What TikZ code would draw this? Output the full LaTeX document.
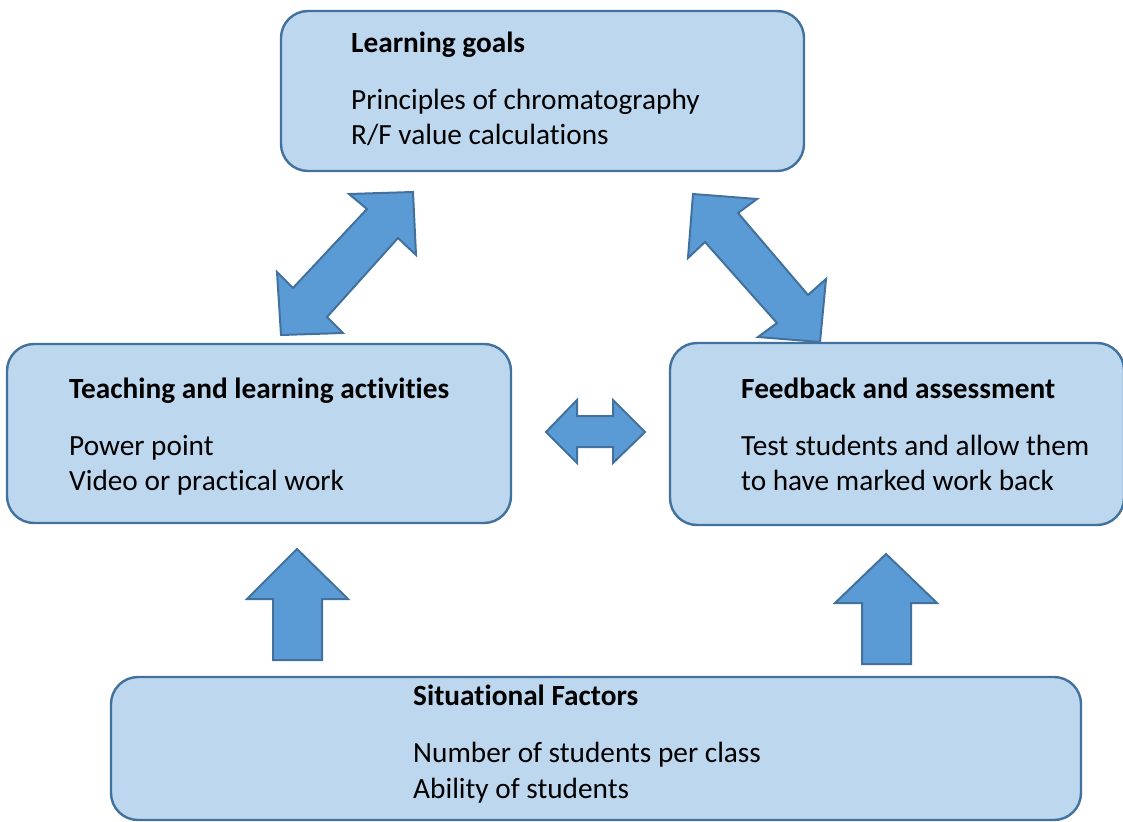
\documentclass[tikz,border=0pt]{standalone}
\usepackage{fontspec}
\setmainfont[Ligatures=NoCommon]{Carlito}
\definecolor{boxfill}{HTML}{BDD7EE}
\definecolor{boxline}{HTML}{41719C}
\definecolor{arrfill}{HTML}{5B9BD5}
\begin{document}
\begin{tikzpicture}[x=1pt,y=-1pt,
  box/.style={draw=boxline, fill=boxfill, line width=2.4pt, rounded corners=27pt},
  blockarrow/.style={draw=boxline, fill=arrfill, line width=2pt, line join=miter},
  txt/.style={anchor=base west, inner sep=0pt, font=\fontsize{29.3}{35}\selectfont},
  head/.style={txt, font=\fontsize{29.3}{35}\selectfont\bfseries}]
\useasboundingbox (0,0) rectangle (1123,821);
% boxes
\draw[box] (281,11) rectangle (804,171);
\node[inner sep=0pt] (goals) at (542.5,91) {};
\draw[box] (7,344) rectangle (511,523);
\node[inner sep=0pt] (teach) at (259,433.5) {};
\draw[box] (670,343) rectangle (1124,525);
\node[inner sep=0pt] (feed) at (897,434) {};
\draw[box] (111,677) rectangle (1081,820);
\node[inner sep=0pt] (situ) at (596,748.5) {};
% texts
\node[head] (t1) at (351,53) {Learning goals};
\node[txt] (t2) at (351,110) {Principles of chromatography};
\node[txt] (t3) at (351,145) {R/F value calculations};
\node[head] (t4) at (69,398) {Teaching and learning activities};
\node[txt] (t5) at (69,455) {Power point};
\node[txt] (t6) at (69,490) {Video or practical work};
\node[head] (t7) at (741,398) {Feedback and assessment};
\node[txt] (t8) at (741,455) {Test students and allow them};
\node[txt] (t9) at (741,490) {to have marked work back};
\node[head] (t10) at (413,705) {Situational Factors};
\node[txt] (t11) at (413,762) {Number of students per class};
\node[txt] (t12) at (413,798) {Ability of students};
% left diagonal double arrow
\draw[blockarrow] (413,192) -- (416,255) -- (398,238) -- (327,317) -- (343,333)
  -- (281,335) -- (277,272) -- (293,288) -- (367,209) -- (349,194) -- cycle;
% right diagonal double arrow
\draw[blockarrow] (693,194) -- (757,199) -- (738,213) -- (808,295) -- (826,279)
  -- (820,342) -- (758,337) -- (777,323) -- (705,242) -- (688,258) -- cycle;
% horizontal double arrow
\draw[blockarrow] (546,432) -- (577,400) -- (577,416) -- (613,416) -- (613,400)
  -- (645,432) -- (613,463) -- (613,447) -- (577,447) -- (577,463) -- cycle;
% up arrows
\draw[blockarrow] (297,549) -- (348,599) -- (322,599) -- (322,660) -- (273,660)
  -- (273,599) -- (247,599) -- cycle;
\draw[blockarrow] (886,554) -- (937,603) -- (911,603) -- (911,664) -- (862,664)
  -- (862,603) -- (835,603) -- cycle;
\end{tikzpicture}
\end{document}
